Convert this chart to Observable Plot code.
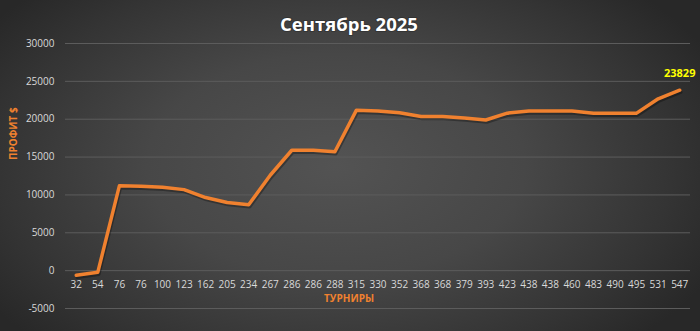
<!DOCTYPE html>
<html>
<head>
<meta charset="utf-8">
<script src="https://cdn.jsdelivr.net/npm/d3@7"></script>
<script src="https://cdn.jsdelivr.net/npm/@observablehq/plot@0.6"></script>
<style>
  html, body { margin: 0; padding: 0; }
  #chart {
    width: 700px; height: 331px; overflow: hidden;
    background: radial-gradient(ellipse 60% 75% at 48% 50%, #535353 0%, #474747 45%, #343434 80%, #282828 100%);
  }
  #chart svg { display: block; }
</style>
</head>
<body>
<div id="chart"></div>
<script>
const title = "Сентябрь 2025";
const yTitle = "ПРОФИТ $";
const xTitle = "ТУРНИРЫ";
const xLabels = ["32","54","76","76","100","123","162","205","234","267","286","286","288","315","330","352","368","368","379","393","423","438","438","460","483","490","495","531","547"];
const profit = [-600,-200,11200,11150,11000,10700,9650,9000,8700,12600,15900,15900,15700,21200,21100,20850,20350,20350,20150,19900,20800,21100,21100,21100,20800,20800,20800,22700,23829];
const yTicks = [-5000,0,5000,10000,15000,20000,25000,30000];

const idx = xLabels.map((_, i) => i);
const rows = idx.map(i => ({i, v: profit[i]}));
const last = [rows[rows.length - 1]];

const plot = Plot.plot({
  width: 700,
  height: 331,
  marginTop: 43,
  marginBottom: 23,
  marginLeft: 65,
  marginRight: 10,
  style: {background: "transparent", color: "#d9d9d9", fontFamily: "'Open Sans', sans-serif", fontSize: "10px"},
  x: {type: "linear", domain: [-0.5, xLabels.length - 0.5], axis: null},
  y: {domain: [-5000, 30000], ticks: yTicks, tickSize: 0, tickPadding: 11, tickFormat: d => String(d), label: null},
  marks: [
    Plot.ruleY(yTicks, {stroke: "#5c5c5c", strokeWidth: 1}),
    Plot.line(rows, {x: "i", y: "v", stroke: "#000", strokeOpacity: 0.3, strokeWidth: 3.5, dx: 1, dy: 2, strokeLinejoin: "round", strokeLinecap: "round"}),
    Plot.line(rows, {x: "i", y: "v", stroke: "#F0812F", strokeWidth: 3.5, strokeLinejoin: "round", strokeLinecap: "round"}),
    Plot.text(idx, {x: i => i, y: () => 0, text: i => xLabels[i], dy: 14, fill: "#d9d9d9", fontSize: 10}),
    Plot.text(last, {x: "i", y: "v", text: d => String(d.v), dy: -17, fill: "#ffff00", fontWeight: "bold", fontSize: 11}),
    Plot.text([title], {frameAnchor: "top", dx: -29, dy: -26, fill: "#ffffff", fontWeight: "bold", fontSize: 18.5, stroke: "#000", strokeOpacity: 0.2, strokeWidth: 2, paintOrder: "stroke"}),
    Plot.text([yTitle], {frameAnchor: "left", rotate: -90, dx: -52, dy: -16, fill: "#F0812F", fontWeight: "bold", fontSize: 10}),
    Plot.text([xTitle], {frameAnchor: "bottom", dx: -29, dy: -7, fill: "#F0812F", fontWeight: "bold", fontSize: 10})
  ]
});
document.getElementById("chart").appendChild(plot);
</script>
</body>
</html>
